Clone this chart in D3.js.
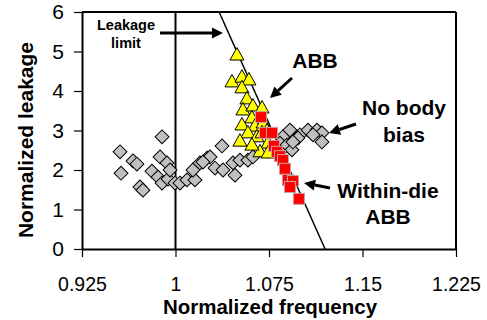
<!DOCTYPE html>
<html><head><meta charset="utf-8">
<script src="https://cdn.jsdelivr.net/npm/d3@7"></script>
<style>body{margin:0;background:#fff}text{font-family:Arial,"Liberation Sans",sans-serif}</style>
</head><body><svg id="c" width="487" height="320"></svg>
<script>
// ---- data ----
const xTicks = [0.925, 1, 1.075, 1.15, 1.225];
const yTicks = [0, 1, 2, 3, 4, 5, 6];
const noBiasFreq = [0.9555,0.9563,0.9659,0.9691,0.9715,0.9739,0.9892,0.9876,0.9932,0.9811,0.9860,0.9892,0.9940,0.9956,0.9996,1.0036,1.0092,1.0156,1.0140,1.0196,1.0253,1.0373,1.0277,1.0317,1.0381,1.0477,1.0461,1.0517,1.0581,1.0621,1.0220,1.0862,1.0918,1.0998,1.0958,1.0838,1.0894,1.0838,1.0934,1.1063,1.1135,1.1175,1.1175,1.1103,1.0982,1.0942];
const noBiasLeak = [2.46,1.92,2.23,2.15,1.57,1.49,2.84,2.33,2.18,1.97,1.82,1.67,1.77,2.00,1.67,1.67,1.75,1.75,2.00,2.18,2.30,2.61,2.33,2.05,2.00,1.87,2.18,2.25,2.25,2.33,2.20,2.84,3.01,2.89,2.76,2.68,2.63,2.46,2.51,3.01,3.01,2.94,2.71,2.89,2.81,2.71];
const abbFreq = [1.0493,1.0453,1.0533,1.0589,1.0533,1.0573,1.0541,1.0621,1.0694,1.0613,1.0533,1.0637,1.0702,1.0581,1.0517,1.0653,1.0734,1.0694,1.0742,1.0678,1.0742,1.0613];
const abbLeak = [4.91,4.23,4.35,4.28,4.08,3.80,3.52,3.62,3.57,3.32,3.14,3.11,3.19,2.94,2.73,2.84,2.99,2.94,2.68,2.46,2.43,2.63];
const wdFreq = [1.0686,1.0718,1.0774,1.0790,1.0814,1.0838,1.0862,1.0878,1.0902,1.0942,1.0918,1.0990];
const wdLeak = [3.34,2.94,2.94,2.61,2.46,2.35,2.25,2.03,1.75,1.72,1.57,1.27];
const refFreq = 1;
const limitFreq = [1.035, 1.12];
const limitLeak = [6, 0];

// ---- layout ----
const svg = d3.select("#c");
const L = 82, R = 456, T = 12, B = 249;
const x = d3.scaleLinear().domain([0.925, 1.225]).range([L, R]);
const y = d3.scaleLinear().domain([0, 6]).range([B, T]);

// frame top/right
svg.append("line").attr("x1", L).attr("x2", R).attr("y1", T).attr("y2", T).attr("stroke", "#000").attr("stroke-width", 2);
svg.append("line").attr("x1", R).attr("x2", R).attr("y1", T).attr("y2", B).attr("stroke", "#000").attr("stroke-width", 2);

// reference lines
svg.append("line").attr("x1", x(refFreq)).attr("x2", x(refFreq)).attr("y1", y(0)).attr("y2", y(6)).attr("stroke", "#000").attr("stroke-width", 2);
svg.append("line").attr("x1", x(limitFreq[0])).attr("x2", x(limitFreq[1])).attr("y1", y(limitLeak[0])).attr("y2", y(limitLeak[1])).attr("stroke", "#000").attr("stroke-width", 1.5);

// axes
const fmt = d => d === 1 ? "1" : String(d);
const xa = svg.append("g").attr("transform", `translate(0,${B})`)
  .call(d3.axisBottom(x).tickValues(xTicks).tickFormat(fmt).tickSize(8).tickSizeOuter(0).tickPadding(20));
xa.selectAll("text").attr("font-size", 19.5).attr("fill", "#000");
const ya = svg.append("g").attr("transform", `translate(${L},0)`)
  .call(d3.axisLeft(y).tickValues(yTicks).tickFormat(d3.format("d")).tickSize(8).tickSizeOuter(0).tickPadding(10));
ya.selectAll("text").attr("font-size", 21).attr("fill", "#000");
svg.selectAll(".domain").attr("stroke", "#000").attr("stroke-width", 2);
svg.selectAll(".tick line").attr("stroke", "#000").attr("stroke-width", 1.2);

// axis titles
svg.append("text").attr("x", 270).attr("y", 314).attr("text-anchor", "middle")
  .attr("font-size", 20.5).attr("font-weight", "bold").text("Normalized frequency");
svg.append("text").attr("transform", "translate(33,140) rotate(-90)").attr("text-anchor", "middle")
  .attr("font-size", 21).attr("font-weight", "bold").text("Normalized leakage");

// markers
const nb = noBiasFreq.map((f, i) => [f, noBiasLeak[i]]);
svg.append("g").selectAll("path").data(nb).join("path")
  .attr("d", d3.symbol(d3.symbolSquare, 96)())
  .attr("transform", d => `translate(${x(d[0])},${y(d[1])}) rotate(45)`)
  .attr("fill", "#c0c0c0").attr("stroke", "#000").attr("stroke-width", 1);

const ab = abbFreq.map((f, i) => [f, abbLeak[i]]);
svg.append("g").selectAll("path").data(ab).join("path")
  .attr("d", d => "M0,-7.5L7,5L-7,5Z")
  .attr("transform", d => `translate(${x(d[0])},${y(d[1])})`)
  .attr("fill", "#ffff00").attr("stroke", "#000").attr("stroke-width", 1);

const wd = wdFreq.map((f, i) => [f, wdLeak[i]]);
svg.append("g").selectAll("rect").data(wd).join("rect")
  .attr("x", d => x(d[0]) - 5.5).attr("y", d => y(d[1]) - 5.5).attr("width", 11).attr("height", 11)
  .attr("fill", "#ff0000").attr("stroke", "#c8a0a0").attr("stroke-width", 1);

// annotations
function arrow(x1, y1, x2, y2) {
  const a = Math.atan2(y2 - y1, x2 - x1), hl = 11, hw = 5.5;
  const bx = x2 - hl * Math.cos(a), by = y2 - hl * Math.sin(a);
  svg.append("line").attr("x1", x1).attr("y1", y1).attr("x2", bx).attr("y2", by).attr("stroke", "#000").attr("stroke-width", 3);
  const px = -Math.sin(a) * hw, py = Math.cos(a) * hw;
  svg.append("path").attr("d", `M${x2},${y2}L${bx + px},${by + py}L${bx - px},${by - py}Z`).attr("fill", "#000");
}
function label(lines, cx, y0, lh, fs) {
  lines.forEach((t, i) => svg.append("text").attr("x", cx).attr("y", y0 + i * lh)
    .attr("text-anchor", "middle").attr("font-size", fs).attr("font-weight", "bold").text(t));
}
label(["Leakage", "limit"], 126, 29.5, 18.5, 14.5);
arrow(160, 33, 223, 33);
label(["ABB"], 315, 68, 0, 21);
arrow(292, 78, 270, 98);
label(["No body", "bias"], 404, 115, 26.5, 21);
arrow(356, 124, 329, 133);
label(["Within-die", "ABB"], 388, 198, 26, 21);
arrow(330, 188, 304, 183);
</script></body></html>
